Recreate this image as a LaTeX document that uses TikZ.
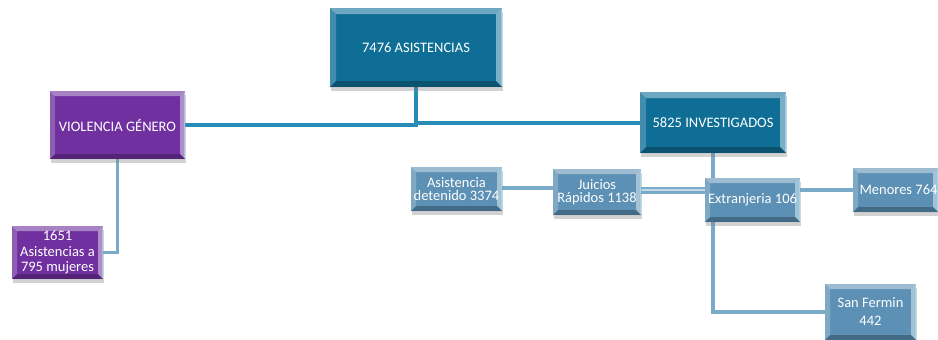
\documentclass[tikz,border=0pt]{standalone}
\usepackage{fontspec}
\setmainfont{Carlito}
\usetikzlibrary{shadows,backgrounds,calc}
\definecolor{boxdark}{RGB}{14,110,150}
\definecolor{boxpurple}{RGB}{112,48,160}
\definecolor{boxlight}{RGB}{92,144,180}
\definecolor{linedark}{RGB}{38,140,182}
\definecolor{linelight}{RGB}{122,170,202}
\tikzset{
  bevel/.style={path picture={
    \path (path picture bounding box.north west) coordinate (pNW)
          (path picture bounding box.south east) coordinate (pSE)
          (path picture bounding box.north east) coordinate (pNE)
          (path picture bounding box.south west) coordinate (pSW);
    \fill[white,opacity=.40] (pNW) -- (pNE) -- ($(pNE)+(-#1,-#1)$) -- ($(pNW)+(#1,-#1)$) -- cycle;
    \fill[white,opacity=.22] (pNW) -- (pSW) -- ($(pSW)+(#1,#1)$) -- ($(pNW)+(#1,-#1)$) -- cycle;
    \fill[white,opacity=.45] (pNE) -- (pSE) -- ($(pSE)+(-#1,#1)$) -- ($(pNE)+(-#1,-#1)$) -- cycle;
    \fill[cyan!40!white,opacity=.7] ($(pNE)+(-1.5pt,-1.5pt)$) rectangle ($(pSE)+(0pt,1.5pt)$);
    \fill[black,opacity=.25] (pSW) -- (pSE) -- ($(pSE)+(-#1,#1)$) -- ($(pSW)+(#1,#1)$) -- cycle;
  }},
  boxbase/.style={rectangle, inner sep=0pt, text=white, align=center,
    font=\fontsize{14.5}{15}\selectfont,
    drop shadow={shadow xshift=1pt, shadow yshift=-4pt, opacity=.35}},
  bigbox/.style={boxbase, fill=boxdark, bevel=6pt},
  purplebox/.style={boxbase, fill=boxpurple, bevel=5pt},
  smallbox/.style={boxbase, fill=boxlight, bevel=5pt},
  darkline/.style={draw=linedark, line width=4pt},
  lightline/.style={draw=linelight, line width=3.5pt},
  doubleline/.style={draw=linelight, line width=2.5pt, double=linelight!45!white, double distance=2pt},
}
\begin{document}
\begin{tikzpicture}[x=1pt,y=-1pt]
\useasboundingbox (0,0) rectangle (938,340);
\node[bigbox, minimum width=172pt, minimum height=79pt] (top) at (416,47.5) {7476 ASISTENCIAS};
\node[purplebox, minimum width=135pt, minimum height=68pt] (vg) at (117.5,125) {VIOLENCIA GÉNERO};
\node[purplebox, minimum width=91pt, minimum height=53pt, font=\fontsize{14.5}{15.5}\selectfont] (a1651) at (57.5,252.5) {1651\\Asistencias a\\795 mujeres};
\node[bigbox, minimum width=146pt, minimum height=61pt] (inv) at (713,122.5) {5825 INVESTIGADOS};
\node[smallbox, minimum width=91pt, minimum height=44pt, font=\fontsize{14.5}{13}\selectfont] (det) at (456.5,189) {Asistencia\\detenido 3374};
\node[smallbox, minimum width=88pt, minimum height=46pt, font=\fontsize{14.5}{13.5}\selectfont] (jr) at (597,192) {Juicios\\Rápidos 1138};
\node[smallbox, minimum width=95pt, minimum height=44pt] (ext) at (752.5,200) {\raisebox{-2pt}{Extranjeria 106}};
\node[smallbox, minimum width=85pt, minimum height=44pt] (men) at (895.5,190) {\hspace*{6pt}Menores 764};
\node[smallbox, minimum width=91pt, minimum height=56pt, font=\fontsize{14.5}{18}\selectfont] (sf) at (870.5,312) {San Fermin\\442};
\begin{scope}[on background layer]
\fill[white] (0,0) rectangle (938,340);
\draw[darkline] (vg.east) -- (vg.east -| top.south) -- (top.south);
\draw[darkline] (top.south |- inv.west) -- (inv.west);
\draw[lightline] (vg.south) |- (a1651.east);
\draw[lightline] (det.east |- 0,188) -- (jr.west |- 0,188);
\draw[doubleline] (jr.east |- 0,190) -- (ext.west |- 0,190);
\draw[lightline] (men.west -| ext.east) -- (men.west);
\draw[lightline] (inv.south) -- (inv.south |- ext.north);
\draw[lightline] (inv.south |- ext.south) |- (sf.west);
\end{scope}
\end{tikzpicture}
\end{document}
